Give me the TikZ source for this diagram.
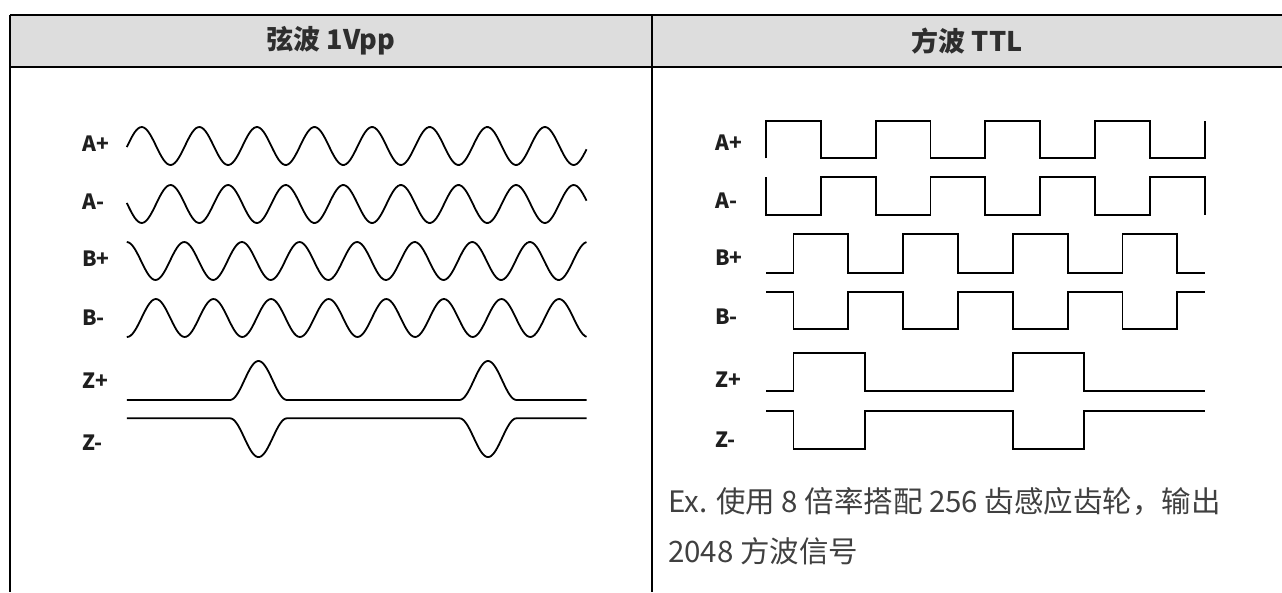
\documentclass[tikz,border=0pt]{standalone}
\usepackage{fontspec}
\setmainfont{Noto Sans CJK SC}
\begin{document}
\begin{tikzpicture}[x=1pt,y=-1pt,
  frame/.style={line width=2.2pt},
  wave/.style={line width=1.8pt, line join=miter, line cap=butt},
  sig/.style={anchor=west, inner sep=0pt, font=\fontsize{21}{24}\selectfont\bfseries, text=black!88},
  hdr/.style={inner sep=0pt, font=\fontsize{27}{30}\selectfont\bfseries, text=black!82},
  body/.style={anchor=base west, inner sep=0pt, font=\fontsize{29.5}{34}\selectfont, text=black!75}]
\useasboundingbox (0,0) rectangle (1282,592);
% table
\fill[gray!27] (10,15) rectangle (1282,67);
\draw[frame] (10,15) -- (1282,15);
\draw[frame] (10,67) -- (1282,67);
\draw[frame] (10,15) -- (10,592);
\draw[frame] (652,15) -- (652,592);
\node[hdr] (h1) at (331,41) {弦波 1Vpp};
\node[hdr] (h2) at (967,41) {方波 TTL};
% left labels
\node[sig] (lAp) at (82,144) {A+};
\node[sig] (lAm) at (82,202) {A-};
\node[sig] (lBp) at (82,258.5) {B+};
\node[sig] (lBm) at (82,318) {B-};
\node[sig] (lZp) at (82,381) {Z+};
\node[sig] (lZm) at (82,442.5) {Z-};
% sine waves (period 57.6 -> 6.25 deg per unit)
\draw[wave] plot[domain=126.8:586.5, samples=240, smooth] (\x, {146-19*cos(6.25*(\x-141.7))});
\draw[wave] plot[domain=126.8:586.5, samples=240, smooth] (\x, {204-19*cos(6.25*(\x-170.5))});
\draw[wave] plot[domain=126.8:586.5, samples=240, smooth] (\x, {261-19*cos(6.25*(\x-184.3))});
\draw[wave] plot[domain=126.8:586.5, samples=240, smooth] (\x, {318-19*cos(6.25*(\x-155.9))});
% Z+ / Z- bumps (width 57 -> 6.3158 deg per unit)
\draw[wave] (126.8,400) -- (230,400)
  plot[domain=230:287, samples=40, smooth] (\x, {400-19.5*(1+cos(6.3158*(\x-258.5)))})
  -- (459.5,400)
  plot[domain=459.5:516.5, samples=40, smooth] (\x, {400-19.5*(1+cos(6.3158*(\x-488)))})
  -- (586.5,400);
\draw[wave] (126.8,418.3) -- (230,418.3)
  plot[domain=230:287, samples=40, smooth] (\x, {418.3+19.4*(1+cos(6.3158*(\x-258.5)))})
  -- (459.5,418.3)
  plot[domain=459.5:516.5, samples=40, smooth] (\x, {418.3+19.4*(1+cos(6.3158*(\x-488)))})
  -- (586.5,418.3);
% right labels
\node[sig] (rAp) at (715,143) {A+};
\node[sig] (rAm) at (715,201) {A-};
\node[sig] (rBp) at (715,258) {B+};
\node[sig] (rBm) at (715,316.5) {B-};
\node[sig] (rZp) at (715,380) {Z+};
\node[sig] (rZm) at (715,440) {Z-};
% square waves
\draw[wave] (766,158.3) foreach \i in {1,...,4} { -- ++(0,-37.6) -- ++(54.84,0) -- ++(0,37.6) -- ++(54.84,0) } -- ++(0,-37.6);
\draw[wave] (766,177.3) foreach \i in {1,...,4} { -- ++(0,37.7) -- ++(54.84,0) -- ++(0,-37.7) -- ++(54.84,0) } -- ++(0,37.7);
\draw[wave] (766,272.7) -- ++(27.42,0) foreach \i in {1,...,3} { -- ++(0,-38.4) -- ++(54.84,0) -- ++(0,38.4) -- ++(54.84,0) } -- ++(0,-38.4) -- ++(54.84,0) -- ++(0,38.4) -- ++(27.42,0);
\draw[wave] (766,291.7) -- ++(27.42,0) foreach \i in {1,...,3} { -- ++(0,37.6) -- ++(54.84,0) -- ++(0,-37.6) -- ++(54.84,0) } -- ++(0,37.6) -- ++(54.84,0) -- ++(0,-37.6) -- ++(27.42,0);
\draw[wave] (766,391) -- (793.4,391) -- (793.4,353.3) -- (865,353.3) -- (865,391) -- (1012.6,391) -- (1012.6,353.3) -- (1083.6,353.3) -- (1083.6,391) -- (1204.7,391);
\draw[wave] (766,410.7) -- (793.4,410.7) -- (793.4,448.7) -- (865,448.7) -- (865,410.7) -- (1012.6,410.7) -- (1012.6,448.7) -- (1083.6,448.7) -- (1083.6,410.7) -- (1204.7,410.7);
% note
\node[body] (ex1) at (668,512) {Ex. 使用 8 倍率搭配 256 齿感应齿轮，输出};
\node[body] (ex2) at (668,562) {2048 方波信号};
\end{tikzpicture}
\end{document}
